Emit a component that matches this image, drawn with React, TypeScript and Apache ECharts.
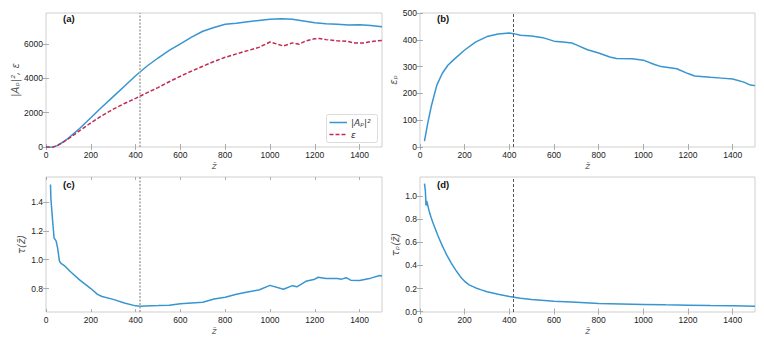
import React, { useEffect, useRef } from "react";
import * as echarts from "echarts";

// Panel (a): |A_p|^2 and epsilon vs z
const zA = [0, 15, 30, 50, 80, 100, 150, 200, 250, 300, 350, 400, 450, 500, 550, 600, 650, 700, 750, 800, 850, 900, 950, 1000, 1050, 1100, 1150, 1200, 1250, 1300, 1350, 1400, 1450, 1500];
const apSq = [0, -20, -10, 80, 320, 520, 1080, 1700, 2330, 2930, 3540, 4150, 4700, 5180, 5620, 6000, 6400, 6740, 6960, 7150, 7210, 7290, 7370, 7440, 7470, 7430, 7330, 7230, 7180, 7150, 7100, 7110, 7070, 7000];
const zE = [0, 15, 30, 50, 80, 100, 150, 200, 250, 300, 350, 400, 450, 500, 550, 600, 650, 700, 750, 800, 850, 900, 950, 1000, 1030, 1060, 1100, 1130, 1160, 1200, 1220, 1250, 1300, 1340, 1380, 1420, 1450, 1500];
const eps = [0, -20, -10, 80, 310, 480, 950, 1400, 1830, 2200, 2530, 2830, 3150, 3460, 3800, 4120, 4420, 4700, 4980, 5220, 5420, 5610, 5800, 6110, 6000, 5880, 6060, 5980, 6180, 6300, 6320, 6250, 6180, 6160, 6050, 6060, 6140, 6200];

// Panel (b): epsilon_p vs z
const zB = [20, 35, 50, 75, 100, 125, 150, 200, 250, 300, 350, 400, 420, 450, 500, 550, 600, 650, 680, 700, 750, 800, 850, 880, 950, 1000, 1050, 1080, 1150, 1200, 1230, 1300, 1350, 1400, 1450, 1480, 1500];
const epsP = [22, 90, 150, 230, 275, 305, 325, 362, 392, 412, 422, 425, 423, 417, 414, 408, 395, 391, 388, 381, 363, 351, 336, 330, 329, 324, 308, 300, 292, 274, 265, 260, 257, 254, 242, 231, 229];

// Panel (c): tau vs z
const zC = [20, 22, 28, 36, 45, 52, 60, 67, 85, 107, 150, 200, 230, 250, 300, 350, 400, 420, 500, 550, 600, 700, 750, 800, 850, 900, 950, 1000, 1060, 1100, 1120, 1160, 1200, 1215, 1250, 1300, 1320, 1340, 1360, 1400, 1450, 1490, 1500];
const tau = [1.52, 1.42, 1.3, 1.15, 1.13, 1.08, 0.99, 0.975, 0.955, 0.92, 0.86, 0.8, 0.76, 0.745, 0.725, 0.7, 0.68, 0.678, 0.682, 0.685, 0.695, 0.705, 0.728, 0.74, 0.76, 0.776, 0.79, 0.822, 0.795, 0.82, 0.812, 0.85, 0.865, 0.878, 0.87, 0.87, 0.865, 0.875, 0.858, 0.856, 0.872, 0.89, 0.887];

// Panel (d): tau_p vs z
const zD = [20, 24, 27, 30, 40, 50, 60, 70, 80, 90, 100, 110, 120, 130, 140, 150, 160, 170, 180, 190, 200, 210, 220, 235, 250, 275, 300, 350, 400, 450, 500, 600, 700, 800, 900, 1000, 1100, 1200, 1300, 1400, 1500];
const tauP = [1.11, 1.05, 0.92, 0.96, 0.88, 0.815, 0.76, 0.71, 0.66, 0.615, 0.57, 0.53, 0.49, 0.455, 0.42, 0.39, 0.36, 0.332, 0.305, 0.283, 0.262, 0.246, 0.232, 0.218, 0.205, 0.188, 0.172, 0.15, 0.13, 0.115, 0.104, 0.09, 0.08, 0.07, 0.066, 0.062, 0.058, 0.055, 0.052, 0.05, 0.046];

const xTicks = [0, 200, 400, 600, 800, 1000, 1200, 1400];
const yTicksA = [0, 2000, 4000, 6000];
const yTicksB = [0, 100, 200, 300, 400, 500];
const yTicksC = [0.8, 1.0, 1.2, 1.4];
const yTicksD = [0, 0.2, 0.4, 0.6, 0.8, 1.0];
const legendNames = ["|Aₚ|²", "ε"];
const zMark = 418;

const BLUE = "#3795d0";
const RED = "#c32a52";
const FONT = "'Liberation Sans', Arial, sans-serif";

const pair = (xs: number[], ys: number[]) => xs.map((x, i) => [x, ys[i]]);

export default function App() {
  const ref = useRef<HTMLDivElement>(null);
  useEffect(() => {
    if (!ref.current) return;
    const chart = echarts.init(ref.current, undefined, { renderer: "svg" });

    const grids = [
      { left: 46, top: 13, width: 336, height: 134 },
      { left: 420, top: 13, width: 335, height: 134 },
      { left: 46, top: 177, width: 336, height: 135 },
      { left: 420, top: 177, width: 335, height: 135 },
    ];
    const yCfg = [
      { min: 0, max: 7800, ticks: yTicksA, dec: 0, name: "|Aₚ|², ε", gap: 24 },
      { min: 0, max: 500, ticks: yTicksB, dec: 0, name: "εₚ", gap: 19 },
      { min: 0.6375, max: 1.5725, ticks: yTicksC, dec: 1, name: "τ(z̄)", gap: 20 },
      { min: -0.004, max: 1.168, ticks: yTicksD, dec: 1, name: "τₚ(z̄)", gap: 20 },
    ];
    const tickStyle = { inside: true, length: 3, lineStyle: { color: "#9a9a9a", width: 0.8 } };
    const labelStyle = { fontSize: 8.5, color: "#222", fontFamily: FONT };

    const xAxis: any[] = [];
    const yAxis: any[] = [];
    grids.forEach((_, g) => {
      xAxis.push({
        type: "value", gridIndex: g, min: 0, max: 1500, position: "bottom",
        axisLine: { show: false }, splitLine: { show: false },
        axisTick: { ...tickStyle, customValues: xTicks },
        axisLabel: { ...labelStyle, margin: 3, customValues: xTicks, formatter: (v: number) => String(v) },
        name: "z̄", nameLocation: "middle", nameGap: 14,
        nameTextStyle: { fontSize: 9, color: "#666", fontFamily: "'DejaVu Sans'", fontStyle: "italic" },
      });
      xAxis.push({
        type: "value", gridIndex: g, min: 0, max: 1500, position: "top",
        axisLine: { show: false }, splitLine: { show: false },
        axisTick: { ...tickStyle, customValues: xTicks },
        axisLabel: { show: false },
      });
      const c = yCfg[g];
      yAxis.push({
        type: "value", gridIndex: g, min: c.min, max: c.max, position: "left",
        axisLine: { show: false }, splitLine: { show: false },
        axisTick: { ...tickStyle, customValues: c.ticks },
        axisLabel: {
          ...labelStyle, margin: 3, customValues: c.ticks,
          formatter: (v: number) => v.toFixed(c.dec),
        },
        name: c.name, nameLocation: "middle", nameGap: c.gap, nameRotate: 90,
        nameTextStyle: { fontSize: 10, color: "#555", fontFamily: "'DejaVu Sans'", fontStyle: "italic" },
      });
      yAxis.push({
        type: "value", gridIndex: g, min: c.min, max: c.max, position: "right",
        axisLine: { show: false }, splitLine: { show: false },
        axisTick: { ...tickStyle, customValues: c.ticks },
        axisLabel: { show: false },
      });
    });

    const mark = (dark: boolean) => ({
      silent: true, symbol: "none", label: { show: false },
      lineStyle: dark
        ? { color: "#444", type: [3, 2], width: 0.9 }
        : { color: "#aaaaaa", type: [2, 1.5], width: 1.6 },
      data: [{ xAxis: zMark }],
    });

    const lineSeries = (name: string, idx: number, data: number[][], color: string, extra: any = {}) => ({
      name, type: "line", xAxisIndex: idx, yAxisIndex: idx, data,
      showSymbol: false, symbol: "none",
      lineStyle: { color, width: 1.5, ...(extra.lineStyle || {}) }, itemStyle: { color },
      ...(extra.markLine ? { markLine: extra.markLine } : {}),
      z: 3,
    });

    const option: any = {
      animation: false,
      backgroundColor: "#fff",
      grid: grids.map((g) => ({ ...g, show: true, borderColor: "#cfcfcf", borderWidth: 1, backgroundColor: "transparent" })),
      xAxis, yAxis,
      series: [
        lineSeries(legendNames[0], 0, pair(zA, apSq), BLUE, { markLine: mark(false) }),
        lineSeries(legendNames[1], 0, pair(zE, eps), RED, { lineStyle: { type: [4, 2] } }),
        lineSeries("b", 2, pair(zB, epsP), BLUE, { markLine: mark(true) }),
        lineSeries("c", 4, pair(zC, tau), BLUE, { markLine: mark(false) }),
        lineSeries("d", 6, pair(zD, tauP), BLUE, { markLine: mark(true) }),
      ],
      graphic: [
        { type: "text", x: 63, y: 13, style: { text: "(a)", font: `bold 9.5px ${FONT}`, fill: "#111" } },
        { type: "text", x: 437, y: 13, style: { text: "(b)", font: `bold 9.5px ${FONT}`, fill: "#111" } },
        { type: "text", x: 63, y: 179, style: { text: "(c)", font: `bold 9.5px ${FONT}`, fill: "#111" } },
        { type: "text", x: 437, y: 179, style: { text: "(d)", font: `bold 9.5px ${FONT}`, fill: "#111" } },
        // legend box for panel (a)
        { type: "rect", shape: { x: 326.5, y: 114.5, width: 51, height: 28, r: 2 }, style: { fill: "#fff", stroke: "#dddddd", lineWidth: 1 }, z: 10 },
        { type: "line", shape: { x1: 329.5, y1: 122.5, x2: 347, y2: 122.5 }, style: { stroke: BLUE, lineWidth: 1.5 }, z: 11 },
        { type: "line", shape: { x1: 329.5, y1: 134.5, x2: 347, y2: 134.5 }, style: { stroke: RED, lineWidth: 1.5, lineDash: [4, 2] }, z: 11 },
        { type: "text", x: 351, y: 122.5, style: { text: legendNames[0], font: "italic 9px 'DejaVu Sans'", fill: "#333", verticalAlign: "middle" }, z: 11 },
        { type: "text", x: 351, y: 134.5, style: { text: legendNames[1], font: "italic 9px 'DejaVu Sans'", fill: "#333", verticalAlign: "middle" }, z: 11 },
      ],
    };
    chart.setOption(option);
    return () => chart.dispose();
  }, []);
  return <div ref={ref} style={{ width: 764, height: 344, position: "absolute", left: 0, top: 0 }} />;
}
